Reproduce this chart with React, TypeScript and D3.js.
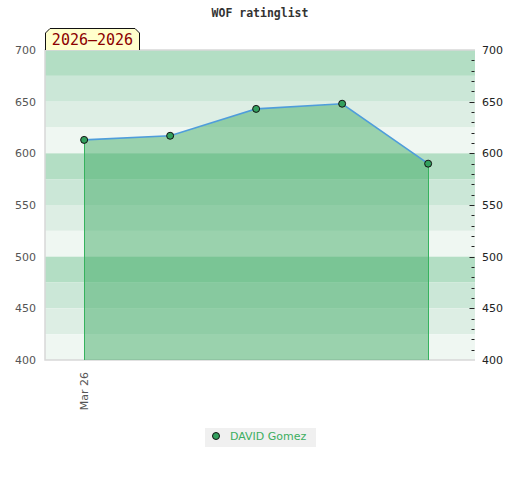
import { useEffect, useRef } from 'react';
import * as d3 from 'd3';

// ratings, one per game night
const ratings = [613, 617, 643, 648, 590];
const xTickLabels = ['Mar 26'];
const yTicks = [400, 450, 500, 550, 600, 650, 700];
const bandColors = ['#b3dec4', '#cbe7d7', '#ddeee4', '#eff7f2'];
const seriesName = 'DAVID Gomez';
const periodLabel = '2026\u20132026';
const title = 'WOF ratinglist';

const W = 520;
const H = 480;

const App = () => {
  const svgRef = useRef<SVGSVGElement>(null);

  useEffect(() => {
    if (!svgRef.current) return;
    const svg = d3.select(svgRef.current);
    svg.selectAll('*').remove();

    const left = 45;
    const right = 475;
    const top = 50;
    const bottom = 360;

    const x = d3.scaleLinear().domain([-0.455, 4.545]).range([left, right]);
    const y = d3.scaleLinear().domain([400, 700]).range([bottom, top]);

    // horizontal bands, 25 points each
    const bands = d3.range(700, 400, -25);
    svg
      .append('g')
      .selectAll('rect')
      .data(bands)
      .enter()
      .append('rect')
      .attr('x', left)
      .attr('y', (d) => y(d))
      .attr('width', right - left)
      .attr('height', (d) => y(d - 25) - y(d))
      .attr('fill', (d, i) => bandColors[i % 4]);

    // plot border
    svg
      .append('path')
      .attr('d', `M${right},${top}H${left}V${bottom}H${right}`)
      .attr('fill', 'none')
      .attr('stroke', '#d8d8d8')
      .attr('stroke-width', 1.5);

    // area under the series
    const area = d3
      .area<number>()
      .x((d, i) => x(i))
      .y0(y(400))
      .y1((d) => y(d));
    svg
      .append('path')
      .attr('d', area(ratings) || '')
      .attr('fill', '#3daa62')
      .attr('fill-opacity', 0.48);

    // vertical edges of the area
    const last = ratings.length - 1;
    [0, last].forEach((i) => {
      const px = Math.round(x(i)) + 0.5;
      svg
        .append('line')
        .attr('x1', px)
        .attr('x2', px)
        .attr('y1', y(400))
        .attr('y2', y(ratings[i]))
        .attr('stroke', '#36b25e')
        .attr('stroke-width', 1);
    });

    const line = d3
      .line<number>()
      .x((d, i) => x(i))
      .y((d) => y(d));
    svg
      .append('path')
      .attr('d', line(ratings) || '')
      .attr('fill', 'none')
      .attr('stroke', '#4f9ddb')
      .attr('stroke-width', 1.6);

    svg
      .append('g')
      .selectAll('circle')
      .data(ratings)
      .enter()
      .append('circle')
      .attr('cx', (d, i) => x(i))
      .attr('cy', (d) => y(d))
      .attr('r', 3.5)
      .attr('fill', '#33a05e')
      .attr('stroke', '#111')
      .attr('stroke-width', 1);

    // left axis labels
    svg
      .append('g')
      .selectAll('text')
      .data(yTicks)
      .enter()
      .append('text')
      .attr('x', 36)
      .attr('y', (d) => y(d))
      .attr('dy', '0.35em')
      .attr('text-anchor', 'end')
      .style('font-family', 'DejaVu Sans, sans-serif')
      .style('font-size', '11px')
      .style('fill', '#555')
      .text((d) => d);

    // right axis: minor ticks every 10, labels every 50
    const minor = d3.range(400, 701, 10);
    svg
      .append('g')
      .selectAll('line')
      .data(minor)
      .enter()
      .append('line')
      .attr('x1', (d) => (d % 50 === 0 ? 469.5 : 471.5))
      .attr('x2', 474.5)
      .attr('y1', (d) => Math.round(y(d)) + 0.5)
      .attr('y2', (d) => Math.round(y(d)) + 0.5)
      .attr('stroke', (d) => (d === 700 || d === 400 ? 'none' : '#222'))
      .attr('stroke-width', 1);
    svg
      .append('g')
      .selectAll('text')
      .data(yTicks)
      .enter()
      .append('text')
      .attr('x', 482)
      .attr('y', (d) => y(d))
      .attr('dy', '0.35em')
      .style('font-family', 'DejaVu Sans, sans-serif')
      .style('font-size', '11px')
      .style('fill', '#222')
      .text((d) => d);

    // x axis label(s)
    svg
      .append('g')
      .selectAll('text')
      .data(xTickLabels)
      .enter()
      .append('text')
      .attr('transform', (d, i) => `translate(${x(i) + 4},${372}) rotate(-90)`)
      .attr('text-anchor', 'end')
      .style('font-family', 'DejaVu Sans, sans-serif')
      .style('font-size', '11px')
      .style('fill', '#555')
      .text((d) => d);

    // title
    svg
      .append('text')
      .attr('x', 260)
      .attr('y', 17)
      .attr('text-anchor', 'middle')
      .style('font-family', 'DejaVu Sans Mono, monospace')
      .style('font-size', '11.5px')
      .style('font-weight', 'bold')
      .style('fill', '#333')
      .text(title);

    // period tab
    const tx0 = 45;
    const tx1 = 140;
    const ty0 = 28;
    const ty1 = 50;
    const cut = 5;
    svg
      .append('path')
      .attr(
        'd',
        `M${tx0 + 0.5},${ty1}V${ty0 + cut}L${tx0 + cut},${ty0 + 0.5}H${tx1 - cut}L${tx1 - 0.5},${ty0 + cut}V${ty1}`
      )
      .attr('fill', '#ffffcc')
      .attr('stroke', '#111')
      .attr('stroke-width', 1);
    svg
      .append('text')
      .attr('x', (tx0 + tx1) / 2)
      .attr('y', 45)
      .attr('text-anchor', 'middle')
      .style('font-family', 'DejaVu Sans Mono, monospace')
      .style('font-size', '15px')
      .style('fill', '#8b0000')
      .text(periodLabel);

    // legend
    const lg = svg.append('g');
    lg.append('rect')
      .attr('x', 205)
      .attr('y', 428)
      .attr('width', 111)
      .attr('height', 19)
      .attr('fill', '#f0f0f0');
    lg.append('circle')
      .attr('cx', 216)
      .attr('cy', 436)
      .attr('r', 3.5)
      .attr('fill', '#33a05e')
      .attr('stroke', '#111')
      .attr('stroke-width', 1);
    lg.append('text')
      .attr('x', 230)
      .attr('y', 436)
      .attr('dy', '0.35em')
      .style('font-family', 'DejaVu Sans, sans-serif')
      .style('font-size', '11px')
      .style('fill', '#3cae5f')
      .text(seriesName);
  }, []);

  return (
    <div style={{ position: 'absolute', left: 0, top: 0 }}>
      <svg ref={svgRef} width={W} height={H} style={{ display: 'block', background: '#fff' }} />
    </div>
  );
};

export default App;
